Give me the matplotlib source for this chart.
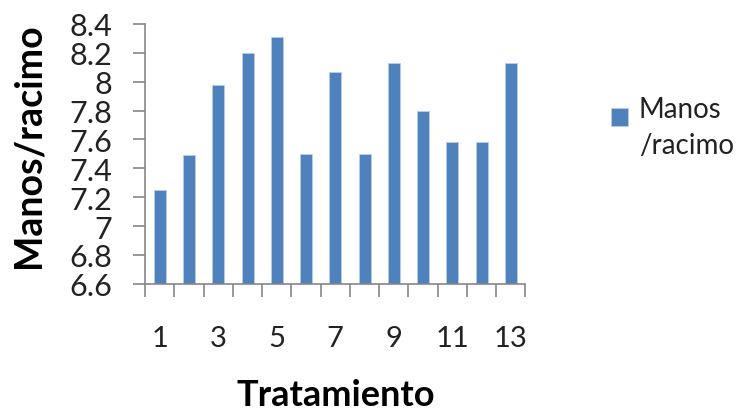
import matplotlib
matplotlib.use("Agg")
import matplotlib.pyplot as plt
from matplotlib.patches import Rectangle
from matplotlib.legend_handler import HandlerPatch
from matplotlib.container import BarContainer
import numpy as np

# Datos: manos por racimo según tratamiento
tratamientos = list(range(1, 14))
manos_racimo = [7.25, 7.49, 7.98, 8.20, 8.31, 7.50, 8.07, 7.50, 8.13, 7.80, 7.58, 7.58, 8.13]
etiquetas_x = ["1", "", "3", "", "5", "", "7", "", "9", "", "11", "", "13"]
ticks_y = [6.6, 6.8, 7.0, 7.2, 7.4, 7.6, 7.8, 8.0, 8.2, 8.4]
etiquetas_y = ["6.6", "6.8", "7", "7.2", "7.4", "7.6", "7.8", "8", "8.2", "8.4"]

plt.rcParams["font.family"] = ["Lato", "DejaVu Sans"]

fig = plt.figure(figsize=(7.56, 4.14), dpi=100)
ax = fig.add_axes([0.192, 0.312, 0.503, 0.628])

gris = "#868686"
ax.bar(tratamientos, manos_racimo, width=0.41, bottom=0, color="#4F81BD",
       edgecolor="#B9CDE5", linewidth=0.6, label="Manos\n/racimo", zorder=2)

ax.set_xlim(0.5, 13.5)
ax.set_ylim(6.6, 8.4)

# eje x: marcas en los límites de cada categoría, etiquetas en el centro
ax.set_xticks(tratamientos)
ax.set_xticklabels(etiquetas_x, fontsize=21, color="#222222")
ax.tick_params(axis="x", which="major", length=0, pad=30)
ax.set_xticks(np.arange(0.5, 14, 1), minor=True)
ax.tick_params(axis="x", which="minor", length=9, width=1.2, color=gris, direction="out")

ax.set_yticks(ticks_y)
ax.set_yticklabels(etiquetas_y, fontsize=22, color="#222222")
ax.tick_params(axis="y", length=9, width=1.2, color=gris, pad=15)

for lado in ["top", "right"]:
    ax.spines[lado].set_visible(False)
for lado in ["left", "bottom"]:
    ax.spines[lado].set_color(gris)
    ax.spines[lado].set_linewidth(1.2)

ax.set_xlabel("Tratamiento", fontsize=26, fontweight="bold", labelpad=19)
ax.set_ylabel("Manos/racimo", fontsize=27, fontweight="bold")
ax.yaxis.set_label_coords(-0.262, 0.535)


# cuadro de la leyenda alineado con la primera línea del texto
def cuadro_arriba(legend, orig_handle, xdescent, ydescent, width, height, fontsize):
    return Rectangle((-xdescent, -ydescent + 8), width, height)


def copiar_estilo(legend_handle, orig_handle):
    legend_handle.update_from(orig_handle[0])


manejador = HandlerPatch(patch_func=cuadro_arriba, update_func=copiar_estilo)
leyenda = fig.legend(loc="upper left", bbox_to_anchor=(0.775, 0.825), frameon=False,
                     fontsize=20, handlelength=0.6, handleheight=0.6, handletextpad=0.4,
                     labelcolor="#222222", handler_map={BarContainer: manejador})
for t in leyenda.get_texts():
    t.set_linespacing(1.45)

fig.savefig("out.png", dpi=100)
